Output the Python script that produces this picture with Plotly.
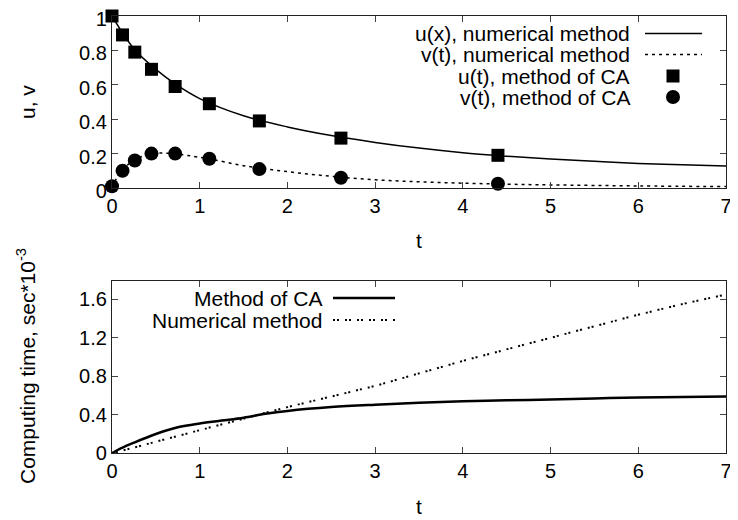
import plotly.graph_objects as go

# ---------------- data ----------------
# top panel: numerical solutions
t_u_num = [0, 0.25, 0.5, 0.75, 1.0, 1.5, 2.0, 2.5, 3.0, 3.5, 4.0, 4.5, 5.0, 5.5, 6.0, 6.5, 7.0]
u_num   = [1.0, 0.81, 0.69, 0.595, 0.52, 0.42, 0.355, 0.305, 0.265, 0.232, 0.205, 0.185, 0.168, 0.155, 0.143, 0.135, 0.128]

t_v_num = [0, 0.05, 0.1, 0.25, 0.35, 0.45, 0.55, 0.7, 0.85, 1.1, 1.5, 2.0, 2.5, 3.0, 3.5, 4.0, 4.5, 5.0, 6.0, 7.0]
v_num   = [0, 0.055, 0.1, 0.16, 0.185, 0.198, 0.203, 0.2, 0.19, 0.17, 0.13, 0.095, 0.068, 0.048, 0.036, 0.028, 0.022, 0.018, 0.012, 0.008]

# top panel: method of CA points
t_ca = [0, 0.12, 0.26, 0.45, 0.72, 1.11, 1.68, 2.61, 4.4]
u_ca = [1.0, 0.89, 0.79, 0.69, 0.59, 0.49, 0.39, 0.29, 0.19]
v_ca = [0.01, 0.1, 0.16, 0.2, 0.2, 0.17, 0.11, 0.06, 0.025]

# bottom panel: computing time
t_time_ca = [0, 0.1, 0.25, 0.5, 0.75, 1.0, 1.25, 1.5, 1.75, 2.0, 2.5, 3.0, 3.5, 4.0, 4.5, 5.0, 5.5, 6.0, 6.5, 7.0]
time_ca   = [0, 0.05, 0.11, 0.2, 0.27, 0.31, 0.34, 0.37, 0.41, 0.44, 0.48, 0.505, 0.525, 0.54, 0.55, 0.56, 0.57, 0.58, 0.585, 0.59]

t_time_num = [0, 0.5, 1.0, 1.5, 2.0, 2.5, 3.0, 3.5, 4.0, 4.5, 5.0, 5.5, 6.0, 6.5, 7.0]
time_num   = [0, 0.12, 0.24, 0.36, 0.48, 0.59, 0.70, 0.83, 0.96, 1.08, 1.2, 1.32, 1.44, 1.55, 1.65]

top_legend = ["u(x), numerical method", "v(t), numerical method",
              "u(t), method of CA", "v(t), method of CA"]
bottom_legend = ["Method of CA", "Numerical method"]

x_ticks = [0, 1, 2, 3, 4, 5, 6, 7]
top_y_ticks = [0, 0.2, 0.4, 0.6, 0.8, 1]
top_y_labels = ["0", "0.2", "0.4", "0.6", "0.8", "1"]
bot_y_ticks = [0, 0.4, 0.8, 1.2, 1.6]
bot_y_labels = ["0", "0.4", "0.8", "1.2", "1.6"]

x_title = "t"
top_y_title = "u, v"
bot_y_title = "Computing time, sec*10<sup>-3</sup>"

# ---------------- figure ----------------
# the page body has an 8px margin, so the figure is 730x512 and placed at (8, 8)
OFF = 8
W, H = 738 - OFF, 520 - OFF
FONT = "Liberation Sans, Arial, sans-serif"
FS = 21
TFS = 20

def px(x):
    return (x - OFF) / W

def py(y):
    return 1 - (y - OFF) / H

fig = go.Figure()

fig.add_trace(go.Scatter(x=t_u_num, y=u_num, mode="lines", line=dict(color="black", width=1.5),
                         xaxis="x", yaxis="y", showlegend=False, line_shape="spline"))
fig.add_trace(go.Scatter(x=t_v_num, y=v_num, mode="lines", line=dict(color="black", width=1.5, dash="3px,4px"),
                         xaxis="x", yaxis="y", showlegend=False, line_shape="spline"))
fig.add_trace(go.Scatter(x=t_ca, y=u_ca, mode="markers", marker=dict(symbol="square", size=13, color="black"),
                         xaxis="x", yaxis="y", showlegend=False, cliponaxis=False))
fig.add_trace(go.Scatter(x=t_ca, y=v_ca, mode="markers", marker=dict(symbol="circle", size=14, color="black"),
                         xaxis="x", yaxis="y", showlegend=False, cliponaxis=False))

fig.add_trace(go.Scatter(x=t_time_ca, y=time_ca, mode="lines", line=dict(color="black", width=2.5),
                         xaxis="x2", yaxis="y2", showlegend=False, line_shape="spline"))
fig.add_trace(go.Scatter(x=t_time_num, y=time_num, mode="lines", line=dict(color="black", width=2, dash="2px,2px,2px,6px"),
                         xaxis="x2", yaxis="y2", showlegend=False))

axis_common = dict(showline=True, linecolor="#222", linewidth=1.3, mirror="allticks",
                   ticks="inside", ticklen=6, tickwidth=1, tickcolor="#444",
                   showgrid=False, zeroline=False, automargin=False, ticklabeloverflow="allow",
                   tickfont=dict(family=FONT, size=TFS, color="black"))

xdom = [px(112), px(726)]
fig.update_layout(
    width=W, height=H,
    margin=dict(l=0, r=0, t=0, b=0),
    paper_bgcolor="white", plot_bgcolor="white",
    font=dict(family=FONT, size=FS, color="black"),
    xaxis=dict(domain=xdom, range=[0, 7], tickvals=x_ticks, anchor="y", **axis_common),
    yaxis=dict(domain=[py(188), py(16)], range=[0, 1], tickvals=top_y_ticks, ticktext=top_y_labels,
               anchor="x", ticklabelshift=3, **axis_common),
    xaxis2=dict(domain=xdom, range=[0, 7], tickvals=x_ticks, anchor="y2", **axis_common),
    yaxis2=dict(domain=[py(453.3), py(281)], range=[0, 1.79], tickvals=bot_y_ticks, ticktext=bot_y_labels,
                anchor="x2", **axis_common),
)

shapes = []
annotations = []

def text(label, x, y, xanchor="center", angle=0):
    annotations.append(dict(x=px(x), y=py(y), xref="paper", yref="paper", text=label,
                            showarrow=False, xanchor=xanchor, yanchor="middle", textangle=angle,
                            font=dict(family=FONT, size=FS, color="black")))

# axis titles
text(x_title, 419, 240)
text(x_title, 419, 506)
text(top_y_title, 27, 102, angle=-90)
text(bot_y_title, 26, 366, angle=-90)

# ---------------- manual legends (gnuplot style: text left, sample right) ----------------
top_rows = [33.5, 54.5, 76, 97]
for label, yy in zip(top_legend, top_rows):
    text(label, 632, yy, xanchor="right")
shapes.append(dict(type="line", xref="paper", yref="paper", x0=px(645), x1=px(702),
                   y0=py(top_rows[0]), y1=py(top_rows[0]), line=dict(color="black", width=1.5)))
shapes.append(dict(type="line", xref="paper", yref="paper", x0=px(645), x1=px(702),
                   y0=py(top_rows[1]), y1=py(top_rows[1]), line=dict(color="black", width=1.5, dash="3px,4px")))
shapes.append(dict(type="rect", xref="paper", yref="paper", x0=px(666.5), x1=px(679.5),
                   y0=py(top_rows[2] + 6.5), y1=py(top_rows[2] - 6.5), fillcolor="black", line=dict(width=0)))
shapes.append(dict(type="circle", xref="paper", yref="paper", x0=px(666), x1=px(680),
                   y0=py(top_rows[3] + 7), y1=py(top_rows[3] - 7), fillcolor="black", line=dict(width=0)))

bot_rows = [298, 320]
for label, yy in zip(bottom_legend, bot_rows):
    text(label, 324, yy, xanchor="right")
shapes.append(dict(type="line", xref="paper", yref="paper", x0=px(333), x1=px(395),
                   y0=py(bot_rows[0]), y1=py(bot_rows[0]), line=dict(color="black", width=2.5)))
shapes.append(dict(type="line", xref="paper", yref="paper", x0=px(333), x1=px(395),
                   y0=py(bot_rows[1]), y1=py(bot_rows[1]), line=dict(color="black", width=2, dash="2px,2px,2px,6px")))

fig.update_layout(shapes=shapes, annotations=annotations)

fig.write_html("out.html")
